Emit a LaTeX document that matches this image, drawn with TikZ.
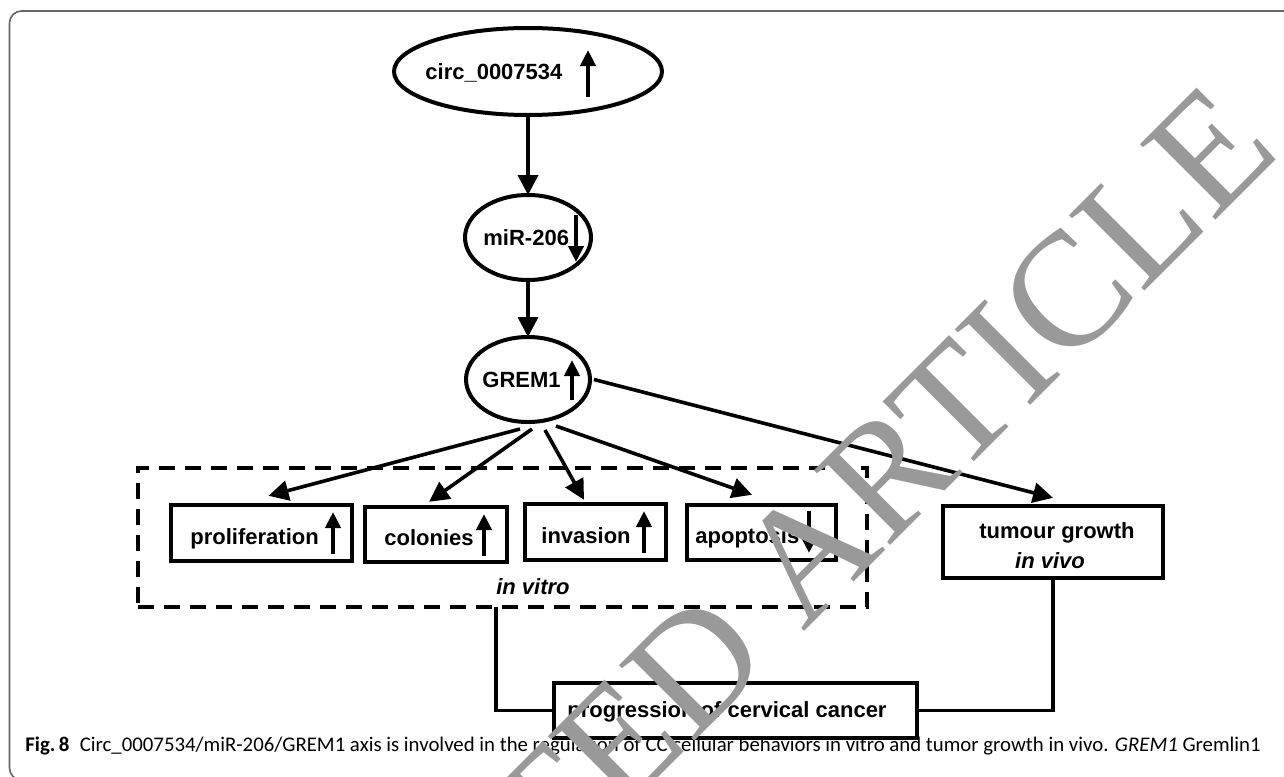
\documentclass[tikz,border=0pt]{standalone}
\usepackage{fontspec}
\setmainfont{Liberation Sans}
\newfontfamily\capfont{Carlito}
\newfontfamily\wmfont{Liberation Serif}
\usetikzlibrary{shapes.geometric,arrows.meta}
\definecolor{wmgray}{RGB}{153,153,153}
\definecolor{framegray}{RGB}{100,100,100}
\tikzset{
  oval/.style={ellipse, draw, line width=2pt, inner sep=0pt},
  box/.style={rectangle, draw, line width=2.2pt, inner sep=0pt},
  lbl/.style={font=\fontsize{11}{13}\selectfont\bfseries, inner sep=0pt, anchor=base west},
  lblc/.style={font=\fontsize{11}{13}\selectfont\bfseries, inner sep=0pt, anchor=base},
  conn/.style={line width=1.8pt, -{Triangle[length=10pt,width=10pt]}},
  link/.style={line width=1.8pt},
  glyph/.style={line width=2pt, -{Triangle[length=8pt,width=7.5pt]}},
  wm/.style={font=\wmfont\fontsize{81.5}{90}\selectfont, text=wmgray, inner sep=0pt},
}
\begin{document}
\begin{tikzpicture}[x=0.5pt, y=-0.5pt]
\useasboundingbox (0,0) rectangle (1284,776);
\begin{scope}
\clip (0,0) rectangle (1284,776);
% frame
\draw[framegray, line width=0.8pt, rounded corners=6pt] (9.5,11) rectangle (1300,780);

% ellipses
\node[oval, minimum width=134pt, minimum height=43.5pt] (circ) at (528,71.5) {};
\node[oval, minimum width=63pt, minimum height=42.5pt] (mir) at (528,237.5) {};
\node[oval, minimum width=62pt, minimum height=42.5pt] (grem) at (528,379.5) {};
\node[lbl] (circt) at (425,79) {circ\_0007534};
\node[lbl] (mirt) at (483,245) {miR-206};
\node[lbl] (gremt) at (482,387) {GREM1};
\draw[glyph] (588,97) -- (588,50);
\draw[glyph] (576,215) -- (576,262);
\draw[glyph] (572,400) -- (572,360);

% boxes
\node[draw, dashed, line width=2pt, dash pattern=on 8pt off 5pt, minimum width=364.5pt, minimum height=69.5pt, inner sep=0pt] (vitro) at (502.5,537.5) {};
\node[box, minimum width=90.5pt, minimum height=28pt] (prolif) at (261.5,533) {};
\node[box, minimum width=71pt, minimum height=27.5pt] (colon) at (436,534.5) {};
\node[box, minimum width=70.5pt, minimum height=28pt] (invas) at (595.5,532) {};
\node[box, minimum width=74.5pt, minimum height=27.5pt] (apop) at (761.5,532.5) {};
\node[box, minimum width=110pt, minimum height=36pt] (tum) at (1053,542) {};
\node[box, minimum width=181.5pt, minimum height=27.5pt] (prog) at (735.5,710.5) {};

\node[lbl] (prolift) at (190,544) {proliferation};
\node[lbl] (colont) at (384,545) {colonies};
\node[lbl] (invast) at (541,543) {invasion};
\node[lbl] (apopt) at (695,543) {apoptosis};
\draw[glyph] (333,554) -- (333,512);
\draw[glyph] (484,556) -- (484,514);
\draw[glyph] (644,553) -- (644,511);
\draw[glyph] (809,511) -- (809,553);
\node[lblc] (vitrot) at (533,594) {\itshape in vitro};
\node[lblc] (tumt) at (1057,538) {tumour growth};
\node[lblc] (tumv) at (1050,568) {\itshape in vivo};
\node[lblc] (progt) at (727,717) {progression of cervical cancer};

% connectors
\draw[conn] (circ.south) -- ([yshift=-1pt]mir.north);
\draw[conn] (mir.south) -- ([yshift=-1pt]grem.north);
\draw[conn] ([xshift=-4pt,yshift=-2.5pt]grem.south) -- ([xshift=3.5pt,yshift=3.5pt]prolif.north);
\draw[conn] ([xshift=2pt,yshift=-2.5pt]grem.south) -- ([xshift=-3.5pt,yshift=1.5pt]colon.north);
\draw[conn] ([xshift=8.5pt,yshift=-3pt]grem.south) -- ([xshift=-5.75pt,yshift=1pt]invas.north);
\draw[conn] ([xshift=14pt,yshift=-1pt]grem.south) -- ([xshift=-4.75pt,yshift=4pt]apop.north);
\draw[conn] ([xshift=1pt]grem.east) -- ([yshift=3pt]tum.north);
\coordinate (vout) at (496,607);
\draw[link] (vout) |- (prog.west);
\draw[link] (tum.south) |- (prog.east);

% caption
\node[font=\capfont\fontsize{10.4}{12}\selectfont, anchor=base west, inner sep=0pt] (cap) at (25,751)
 {\textbf{Fig.\,8}\enspace Circ\_0007534/miR-206/GREM1 axis is involved in the regulation of CC cellular behaviors in vitro and tumor growth in vivo. \textit{GREM1} Gremlin1};

% watermark
\node[wm, rotate=45, anchor=base east] (wmark) at (1283,153) {RETRACTED ARTICLE};
\end{scope}
\end{tikzpicture}
\end{document}
